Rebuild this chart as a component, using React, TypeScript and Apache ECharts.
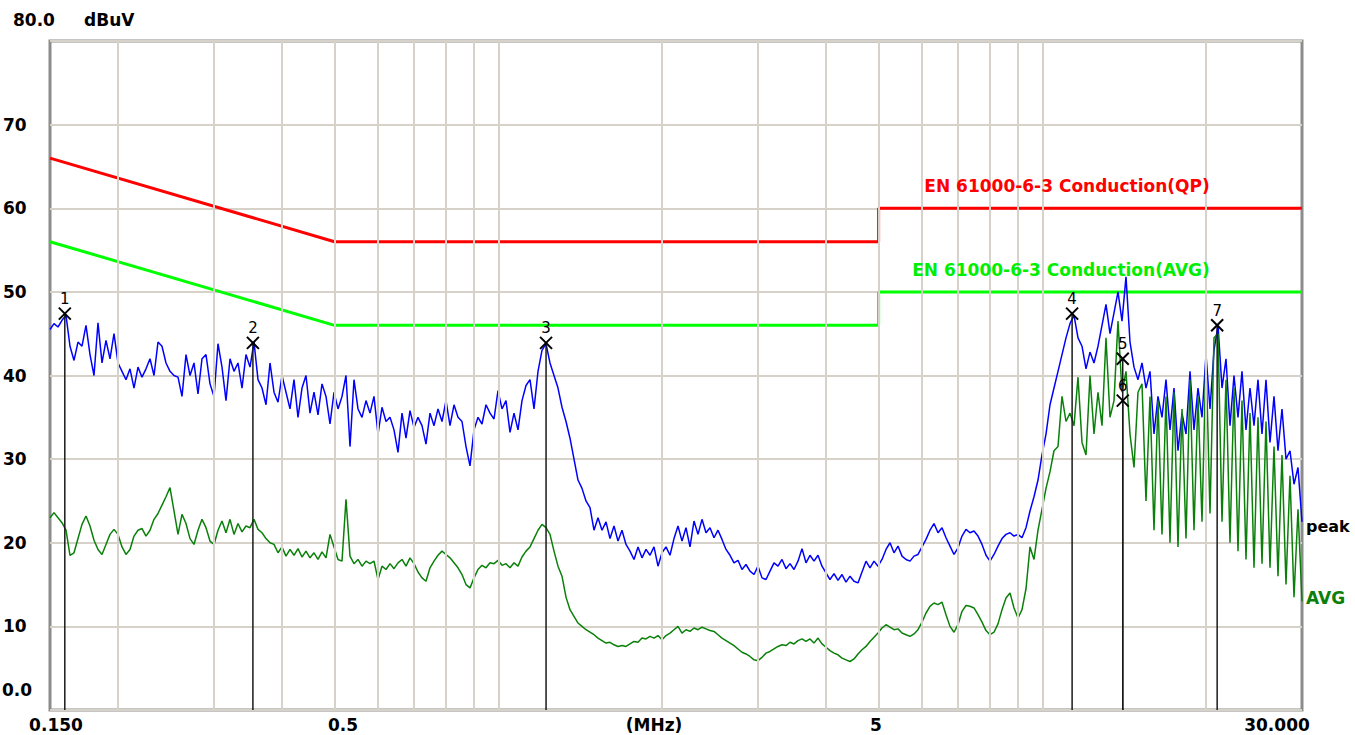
import React, { useEffect, useRef } from "react";
import * as echarts from "echarts";

// Sweep: 0.150 MHz .. 30 MHz, log-spaced receiver points (one per trace value)
const SWEEP_START = 0.15;
const SWEEP_STOP = 30;

// Peak detector trace (dBuV)
const PEAK: number[] = [
  45.5, 46.2, 45.8, 46.6, 47.2, 43.5, 41.8, 44.0, 43.5, 46.0, 42.5, 40.0, 46.3, 41.5, 44.2, 42.0, 45.0, 41.5, 40.5, 39.5,
  40.8, 38.5, 41.0, 39.8, 40.8, 42.0, 40.0, 44.0, 43.5, 41.5, 40.5, 40.0, 39.8, 37.5, 42.5, 40.0, 41.5, 37.8, 42.0, 42.5,
  39.0, 37.5, 43.8, 41.0, 37.0, 42.0, 40.5, 41.5, 38.5, 42.5, 41.0, 44.0, 39.5, 38.5, 36.5, 41.5, 38.0, 36.8, 40.0, 38.0,
  36.0, 39.5, 35.0, 38.5, 40.0, 35.5, 38.0, 35.3, 39.0, 37.5, 34.2, 38.0, 36.0, 37.5, 40.0, 31.5, 39.5, 36.0, 35.0, 37.0,
  35.5, 37.5, 33.0, 36.2, 34.5, 35.0, 33.5, 30.8, 35.5, 32.5, 35.8, 33.8, 35.0, 34.0, 31.8, 35.5, 34.0, 36.0, 34.5, 37.0,
  34.0, 36.5, 35.0, 34.5, 31.5, 29.2, 33.5, 35.0, 34.2, 36.5, 35.5, 34.8, 38.2, 36.0, 37.0, 33.2, 35.5, 33.5, 37.0, 38.8,
  39.5, 36.0, 40.5, 43.0, 43.8, 41.5, 40.0, 38.5, 36.2, 34.5, 32.5, 30.0, 27.5, 26.5, 25.0, 24.2, 21.5, 23.0, 21.5, 22.5,
  20.5, 22.0, 20.2, 21.5, 19.8, 19.0, 18.0, 19.5, 18.2, 19.2, 18.5, 19.5, 17.2, 18.8, 19.5, 18.5, 20.5, 22.0,
  20.2, 21.8, 19.5, 22.6, 21.0, 22.8, 21.2, 21.8, 20.6, 21.5, 20.4, 19.2, 18.5, 17.6, 17.9, 16.8, 17.4, 16.6, 16.2, 17.2,
  15.8, 15.6, 16.6, 17.6, 17.2, 18.0, 16.9, 17.5, 16.8, 17.8, 19.3, 17.6, 18.5, 17.8, 18.5, 17.2, 16.4, 15.6, 16.3, 15.5,
  16.2, 15.3, 16.0, 15.4, 15.2, 16.5, 17.8, 17.0, 17.8, 17.2, 18.0, 19.2, 20.0, 18.8, 19.6, 18.4, 18.0, 17.8, 18.4, 18.6,
  19.5, 20.4, 21.5, 22.3, 21.2, 21.8, 20.6, 19.6, 18.6, 19.4, 20.8, 21.6, 21.2, 21.4, 20.8, 19.8, 18.5, 17.8, 18.6, 19.6,
  20.5, 21.0, 21.2, 20.8, 21.0,
  20.6, 21.8, 23.8, 25.5, 27.5, 30.5, 33.0, 36.5, 38.5, 40.5, 42.5, 44.5, 46.2, 47.2, 44.5, 43.5, 40.8, 42.8, 41.5, 43.5,
  46.0, 48.5, 45.0, 47.5, 50.0, 46.5, 51.8, 44.0, 41.0, 39.5, 41.5, 38.5, 40.5, 33.0, 37.5, 35.0, 39.5, 33.5, 38.5, 31.0,
  35.5, 33.0, 40.5, 33.5, 38.5, 35.0, 42.5, 36.0, 43.0, 46.0, 38.5, 42.0, 34.0, 40.0, 35.0, 40.5, 33.5, 38.5, 34.0, 39.5,
  33.0, 39.5, 32.0, 37.5, 31.0, 36.0, 30.0, 31.0, 27.0, 29.0, 22.5,
];

// Average detector trace (dBuV)
const AVG: number[] = [
  23.0, 23.6, 23.0, 22.4, 21.5, 18.5, 18.8, 20.5, 22.2, 23.2, 22.0, 20.3, 19.2, 18.6, 19.8, 21.0, 21.6, 21.0, 19.5, 18.6,
  19.2, 20.8, 21.5, 21.7, 20.8, 21.5, 22.8, 23.5, 24.5, 25.5, 26.6, 23.8, 21.0, 23.4, 22.3, 20.5, 19.8, 21.5, 22.8, 21.8,
  20.2, 19.8, 21.5, 22.6, 21.2, 22.8, 21.0, 22.3, 21.3, 22.0, 21.8, 22.8, 21.6, 21.2, 20.5, 20.0, 19.8, 18.8, 19.5, 18.4,
  19.2, 18.5, 19.3, 18.3, 19.0, 18.2, 18.8, 18.0, 18.9, 18.2, 21.0, 19.5, 18.0, 17.8, 25.2, 18.4, 17.5, 18.0, 17.2, 17.8,
  17.5, 17.8, 15.6, 17.2, 16.8, 17.5, 16.9, 17.6, 18.0, 17.2, 18.2, 17.5, 16.5, 15.8, 15.4, 17.0, 17.8, 18.5, 19.0, 18.6,
  18.2, 17.6, 17.0, 16.2, 15.0, 14.6, 15.8, 16.8, 17.3, 17.0, 17.6, 17.5, 17.9, 17.3, 17.5, 17.0, 17.6, 17.2, 18.3, 19.0,
  19.5, 20.5, 21.5, 22.2, 21.8, 21.0, 19.0, 17.2, 16.0, 13.5, 12.0, 11.2, 10.4, 10.0, 9.6, 9.3, 9.0, 8.6, 8.3, 8.0,
  8.1, 7.8, 7.6, 7.7, 7.6, 7.9, 8.2, 8.1, 8.6, 8.5, 8.8, 8.6, 8.9, 8.4, 8.9, 9.2, 9.6, 10.0,
  9.2, 9.6, 9.4, 9.8, 9.6, 9.9, 9.7, 9.5, 9.4, 9.0, 8.6, 8.3, 8.0, 7.7, 7.3, 6.9, 6.7, 6.4, 6.0, 5.9,
  6.3, 6.8, 7.0, 7.3, 7.6, 7.8, 7.7, 8.1, 7.9, 8.3, 8.5, 8.2, 8.5, 8.0, 8.6, 7.9, 7.5, 7.1, 6.8, 6.6,
  6.2, 6.0, 5.8, 6.1, 6.7, 7.2, 7.6, 8.2, 8.7, 9.2, 9.8, 10.2, 9.9, 9.6, 9.7, 9.2, 9.0, 8.8, 9.1, 9.6,
  10.5, 11.6, 12.4, 12.8, 12.6, 12.9, 11.4, 10.0, 9.3, 10.2, 11.8, 12.5, 12.4, 12.2, 11.4, 10.5, 9.5, 9.0, 9.3, 10.3,
  12.0, 13.4, 14.0, 12.2, 11.0,
  12.0, 14.5, 19.5, 18.0, 21.5, 24.0, 26.5, 28.5, 31.0, 31.5, 37.5, 34.5, 35.5, 34.0, 39.8, 32.0, 30.5, 40.0, 33.0, 38.0,
  34.0, 44.5, 35.0, 37.0, 46.5, 38.0, 40.5, 33.0, 29.0, 38.0, 39.0, 25.0, 37.5, 21.5, 37.0, 21.0, 37.5, 20.0, 38.0, 19.5,
  36.0, 20.5, 39.5, 21.5, 37.5, 22.5, 42.5, 23.5, 44.5, 45.0, 22.5, 39.5, 20.0, 38.5, 19.0, 37.0, 18.0, 35.5, 17.0, 35.0,
  17.5, 34.5, 17.0, 31.5, 16.0, 30.5, 15.0, 28.0, 13.5, 24.0, 13.0,
];

// Limit lines EN 61000-6-3 (MHz, dBuV)
const QP_LIMIT: [number, number][] = [[0.15, 66], [0.5, 56], [5, 56], [5, 60], [30, 60]];
const AVG_LIMIT: [number, number][] = [[0.15, 56], [0.5, 46], [5, 46], [5, 50], [30, 50]];

// Markers
const MARKER_LABELS = ["1", "2", "3", "4", "5", "6", "7"];
const MARKER_FREQ = [0.1597, 0.354, 1.224, 11.34, 14.05, 14.05, 20.95];
const MARKER_VAL = [47.4, 43.9, 43.9, 47.4, 42.0, 37.0, 46.0];

// Vertical grid lines (MHz)
const GRID_FREQS = [0.2, 0.3, 0.4, 0.5, 0.6, 0.7, 0.8, 0.9, 1, 2, 3, 4, 5, 6, 7, 8, 9, 10, 20];

const sweepFreq = (i: number, n: number) =>
  SWEEP_START * Math.pow(SWEEP_STOP / SWEEP_START, i / (n - 1));

const FONT = "DejaVu Sans";

export default function App() {
  const ref = useRef<HTMLDivElement>(null);
  useEffect(() => {
    if (!ref.current) return;
    const chart = echarts.init(ref.current, null, { renderer: "svg" });
    const peakData = PEAK.map((v, i) => [sweepFreq(i, PEAK.length), v]);
    const avgData = AVG.map((v, i) => [sweepFreq(i, AVG.length), v]);
    const markerData = MARKER_FREQ.map((f, i) => [f, MARKER_VAL[i]]);

    const txt = (text: string, x: number, y: number, align: string, color: string, size: number, bold = true) => ({
      type: "text",
      x,
      y,
      silent: true,
      z: 50,
      style: {
        text,
        x: 0,
        y: 0,
        fill: color,
        font: `${bold ? "bold " : ""}${size}px '${FONT}'`,
        align,
        textAlign: align,
        verticalAlign: "middle",
        textVerticalAlign: "middle",
      },
    });

    chart.setOption({
      animation: false,
      backgroundColor: "#ffffff",
      grid: {
        left: 49,
        top: 41,
        right: 53,
        bottom: 25,
        show: true,
        borderColor: "#8c8c8c",
        borderWidth: 3,
        backgroundColor: "transparent",
      },
      xAxis: {
        type: "log",
        logBase: 10,
        min: SWEEP_START,
        max: SWEEP_STOP,
        axisLine: { show: false },
        axisTick: { show: false },
        axisLabel: { show: false },
        splitLine: { show: false },
      },
      yAxis: {
        type: "value",
        min: 0,
        max: 80,
        interval: 10,
        axisLine: { show: false },
        axisTick: { show: false },
        axisLabel: {
          align: "left",
          margin: 47,
          color: "#000",
          fontFamily: FONT,
          fontWeight: "bold",
          fontSize: 17,
          formatter: (v: number) => (v === 0 || v === 80 ? "" : String(v)),
        },
        splitLine: { show: true, lineStyle: { color: "#d6d2ca", width: 2 } },
      },
      graphic: [
        txt("80.0", 13, 20, "left", "#000", 17),
        txt("dBuV", 84, 20, "left", "#000", 17),
        txt("0.0", 2, 690, "left", "#000", 17),
        txt("0.150", 56, 725, "center", "#000", 17),
        txt("0.5", 343, 725, "center", "#000", 17),
        txt("(MHz)", 654, 725, "center", "#000", 17),
        txt("5", 876, 725, "center", "#000", 17),
        txt("30.000", 1277, 725, "center", "#000", 17),
        txt("EN 61000-6-3 Conduction(QP)", 1067, 186, "center", "#ff0000", 17),
        txt("EN 61000-6-3 Conduction(AVG)", 1061, 270, "center", "#00ee00", 17),
        txt("peak", 1306, 526, "left", "#000", 16),
        txt("AVG", 1306, 598, "left", "#0a800a", 17),
      ],
      series: [
        {
          type: "line",
          name: "grid",
          data: [],
          silent: true,
          z: 1,
          markLine: {
            silent: true,
            symbol: ["none", "none"],
            label: { show: false },
            lineStyle: { color: "#d6d2ca", width: 2, type: "solid" },
            data: GRID_FREQS.map((f) => ({ xAxis: f })),
          },
        },
        {
          type: "line",
          name: "QP limit",
          data: QP_LIMIT,
          symbol: "none",
          z: 2,
          lineStyle: { color: "#ff0000", width: 3 },
        },
        {
          type: "line",
          name: "AVG limit",
          data: AVG_LIMIT,
          symbol: "none",
          z: 2,
          lineStyle: { color: "#00ff00", width: 3 },
        },
        {
          type: "line",
          name: "peak",
          data: peakData,
          symbol: "none",
          z: 3,
          lineStyle: { color: "#0000ff", width: 1.5 },
        },
        {
          type: "line",
          name: "AVG",
          data: avgData,
          symbol: "none",
          z: 4,
          lineStyle: { color: "#0a800a", width: 1.5 },
        },
        {
          type: "custom",
          name: "markers",
          data: markerData,
          z: 5,
          silent: true,
          renderItem: (params: any, api: any) => {
            const f = api.value(0);
            const v = api.value(1);
            const p = api.coord([f, v]);
            const b = api.coord([f, 0]);
            const s = 6;
            const label = MARKER_LABELS[params.dataIndex];
            return {
              type: "group",
              children: [
                { type: "line", shape: { x1: p[0], y1: p[1], x2: p[0], y2: b[1] }, style: { stroke: "#1a1a1a", lineWidth: 1.5 } },
                { type: "line", shape: { x1: p[0] - s, y1: p[1] - s, x2: p[0] + s, y2: p[1] + s }, style: { stroke: "#000", lineWidth: 2 } },
                { type: "line", shape: { x1: p[0] - s, y1: p[1] + s, x2: p[0] + s, y2: p[1] - s }, style: { stroke: "#000", lineWidth: 2 } },
                {
                  type: "text",
                  style: {
                    text: label,
                    x: p[0],
                    y: p[1] - s - 1,
                    fill: "#000",
                    font: `15px '${FONT}'`,
                    align: "center",
                    textAlign: "center",
                    verticalAlign: "bottom",
                    textVerticalAlign: "bottom",
                  },
                },
              ],
            };
          },
        },
      ],
    });
    return () => chart.dispose();
  }, []);
  return (
    <div
      ref={ref}
      style={{ position: "fixed", left: 0, top: 0, width: 1355, height: 735, background: "#fff" }}
    />
  );
}
